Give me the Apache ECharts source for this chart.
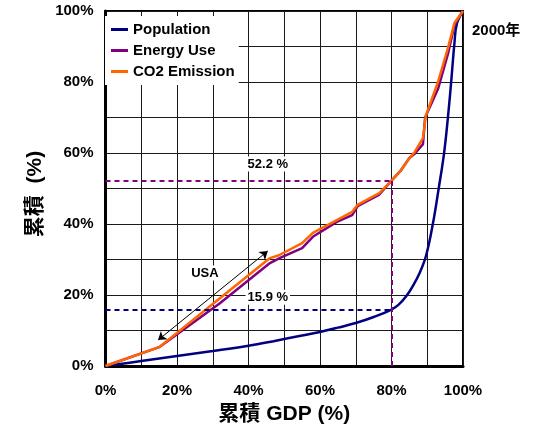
<!DOCTYPE html>
<html>
<head>
<meta charset="utf-8">
<script src="https://cdn.jsdelivr.net/npm/echarts@6/dist/echarts.min.js"></script>
<style>html,body{margin:0;padding:0;background:#fff;}#c{width:533px;height:430px;}</style>
</head>
<body>
<div id="c"></div>
<script>
// ---- data (cumulative GDP % on x, cumulative % on y) ----
const popX = [0, 10, 20, 30, 40, 47, 55, 60, 65, 70, 75, 80, 82, 84, 86, 88, 89.7, 91.6, 93.2, 94.7, 95.8, 96.7, 97.6, 98.3, 100];
const popY = [0, 1.4, 2.8, 4.2, 5.7, 7.0, 8.6, 9.6, 10.8, 12.1, 13.8, 15.9, 17.3, 19.5, 22.6, 26.5, 31.2, 40.2, 50, 59.9, 70.2, 80.1, 90.9, 96.5, 100];
const energyX = [0, 15.2, 32, 46, 49, 55, 58, 64.7, 69, 70.5, 76.6, 80, 82.7, 85, 86.5, 88.8, 89.4, 93, 95.8, 97.6, 100];
const energyY = [0, 5.4, 17.7, 29, 30.5, 33.2, 36.4, 40.6, 42.5, 45, 48.3, 52.2, 55.2, 58.6, 59.8, 62.5, 70, 78, 88, 96, 100];
const co2X = [0, 15.2, 32, 46, 48.5, 55, 58, 64.7, 69, 70.5, 76.6, 80, 82.7, 84.6, 86.5, 88.8, 89.6, 93, 95.8, 97.6, 100];
const co2Y = [0, 5.4, 19.1, 30.4, 31.2, 34.6, 37.5, 41.1, 43.4, 45.4, 48.7, 52.2, 55.2, 58, 60.3, 64.2, 70.5, 80, 89.6, 96.6, 100];
const seriesNames = ['Population', 'Energy Use', 'CO2 Emission'];
const xTicks = ['0%', '20%', '40%', '60%', '80%', '100%'];
const yTicks = ['0%', '20%', '40%', '60%', '80%', '100%'];
const refGdp = 80;
const refPop = 15.9;
const refEnergy = 52.2;
const usaArrow = [[14.7, 7.3], [45.4, 32.4]];
const annotations = [
  { name: '52.2 %', value: [45.4, 56.9] },
  { name: '15.9 %', value: [45.4, 19.4] },
  { name: 'USA', value: [27.8, 26.2] }
];
const yearLabel = '2000年';
const xName = '累積 GDP (%)';
const yName = '累積  (%)';

const FONT = "'Liberation Sans', Arial, 'Noto Sans CJK JP', sans-serif";
const zip = (a, b) => a.map((v, i) => [v, b[i]]);
const tickFmt = (list) => (v) => { const i = v / 20; return Number.isInteger(i) ? list[i] : ''; };

const chart = echarts.init(document.getElementById('c'), null, { renderer: 'canvas' });
chart.setOption({
  animation: false,
  backgroundColor: '#fff',
  textStyle: { fontFamily: FONT },
  grid: { left: 105.5, right: 70, top: 11, bottom: 64, outerBoundsMode: 'none', containLabel: false,
    show: true, borderColor: '#000', borderWidth: 2, backgroundColor: 'transparent' },
  legend: {
    data: seriesNames.map(n => ({ name: n, icon: 'rect' })),
    orient: 'vertical', left: 105, top: 16,
    padding: [6, 4, 6, 6],
    itemWidth: 17, itemHeight: 3, itemGap: 6,
    backgroundColor: '#fff',
    textStyle: { fontFamily: FONT, fontWeight: 'bold', fontSize: 15, color: '#000', lineHeight: 15, padding: [0, 0, 0, 0] }
  },
  xAxis: {
    type: 'value', min: 0, max: 100, interval: 10,
    name: xName, nameLocation: 'middle', nameGap: 38,
    nameTextStyle: { fontFamily: FONT, fontWeight: 'bold', fontSize: 21, color: '#000' },
    axisLine: { show: true, lineStyle: { color: '#000', width: 3 } },
    axisTick: { show: false },
    axisLabel: { formatter: tickFmt(xTicks), margin: 17, fontFamily: FONT, fontWeight: 'bold', fontSize: 15, color: '#000' },
    splitLine: { show: true, lineStyle: { color: '#1a1a1a', width: 1 } }
  },
  yAxis: {
    type: 'value', min: 0, max: 100, interval: 10,
    axisLine: { show: true, lineStyle: { color: '#000', width: 3 } },
    axisTick: { show: false },
    axisLabel: { formatter: tickFmt(yTicks), margin: 12, fontFamily: FONT, fontWeight: 'bold', fontSize: 15, color: '#000' },
    splitLine: { show: true, lineStyle: { color: '#1a1a1a', width: 1 } }
  },
  graphic: [
    { type: 'text', x: 35, y: 194, rotation: Math.PI / 2,
      style: { text: yName, font: 'bold 21px ' + FONT, fill: '#000', textAlign: 'center', textVerticalAlign: 'middle' } },
    { type: 'text', x: 472, y: 31,
      style: { text: yearLabel, font: 'bold 15px ' + FONT, fill: '#000', textAlign: 'left', textVerticalAlign: 'middle' } }
  ],
  series: [
    {
      name: seriesNames[0], type: 'line', data: zip(popX, popY), showSymbol: false, smooth: 0.4,
      lineStyle: { color: '#000080', width: 2.5 }, itemStyle: { color: '#000080' },
      markLine: {
        silent: true, symbol: 'none', label: { show: false },
        lineStyle: { color: '#000080', width: 2, type: [5, 4] },
        data: [[{ coord: [0, refPop] }, { coord: [refGdp, refPop] }]]
      }
    },
    {
      name: seriesNames[1], type: 'line', data: zip(energyX, energyY), showSymbol: false,
      lineStyle: { color: '#800080', width: 2.5 }, itemStyle: { color: '#800080' },
      markLine: {
        silent: true, symbol: 'none', label: { show: false },
        lineStyle: { color: '#800080', width: 2, type: [5, 4] },
        data: [
          [{ coord: [0, refEnergy] }, { coord: [refGdp, refEnergy] }],
          [{ coord: [refGdp, 0] }, { coord: [refGdp, refEnergy] }]
        ]
      }
    },
    {
      name: seriesNames[2], type: 'line', data: zip(co2X, co2Y), showSymbol: false,
      lineStyle: { color: '#FF6600', width: 2.5 }, itemStyle: { color: '#FF6600' }
    },
    {
      name: 'annot', type: 'scatter', data: annotations, symbolSize: 0, silent: true,
      itemStyle: { opacity: 1 },
      label: { show: true, position: 'inside', formatter: p => p.name, fontFamily: FONT, fontWeight: 'bold', fontSize: 13, color: '#000',
        backgroundColor: '#fff', padding: [1, 2] },
      markLine: {
        silent: true, symbol: ['arrow', 'arrow'], symbolSize: 8, label: { show: false },
        lineStyle: { color: '#000', width: 1, type: 'solid', opacity: 1 },
        data: [[{ coord: usaArrow[0] }, { coord: usaArrow[1] }]]
      }
    }
  ]
});
</script>
</body>
</html>
